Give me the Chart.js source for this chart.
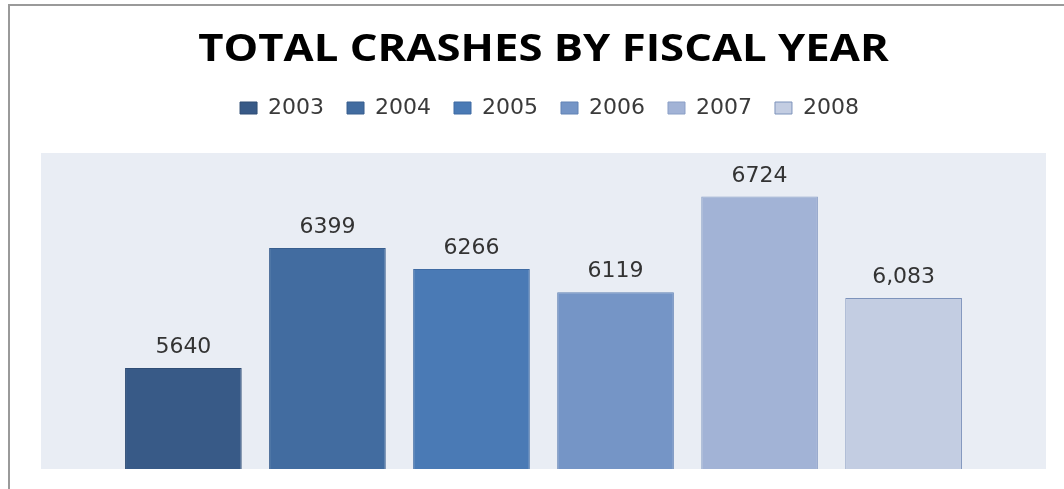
<!DOCTYPE html>
<html>
<head>
<meta charset="utf-8">
<title>Total Crashes by Fiscal Year</title>
<script src="https://cdn.jsdelivr.net/npm/chart.js@4/dist/chart.umd.min.js"></script>
<style>
    body { margin: 0; background: #fff; }
    #wrap { position: relative; width: 1064px; height: 489px; }
    #frame {
        position: absolute; left: 8px; top: 4px; right: 0; bottom: 0;
        border-left: 2px solid #9a9a9a; border-top: 2px solid #9a9a9a;
        pointer-events: none;
    }
    canvas { position: absolute; left: 0; top: 0; }
</style>
</head>
<body>
<div id="wrap">
    <canvas id="crashChart" width="1064" height="489"></canvas>
    <div id="frame"></div>
</div>
<script>
// Fiscal years and crash totals
const years = ['2003', '2004', '2005', '2006', '2007', '2008'];
const crashes = [5640, 6399, 6266, 6119, 6724, 6083];
const valueLabels = ['5640', '6399', '6266', '6119', '6724', '6,083'];
const chartTitle = 'TOTAL CRASHES BY FISCAL YEAR';

const fillColors = ['#385a87', '#426ca0', '#4a7ab5', '#7595c6', '#a2b3d6', '#c3cde2'];
const edgeColors = ['#2f4d75', '#385e8e', '#3f6ba3', '#6283b5', '#8a9fc6', '#7d93bb'];

// Shade behind the bars
const plotBackground = {
    id: 'plotBackground',
    beforeDatasetsDraw(chart) {
        const { ctx, chartArea } = chart;
        ctx.save();
        ctx.fillStyle = '#e9edf4';
        ctx.fillRect(chartArea.left, chartArea.top, chartArea.right - chartArea.left, chartArea.bottom - chartArea.top);
        ctx.restore();
    }
};

// Wide bold heading, stretched a little to get the broad caps
const wideTitle = {
    id: 'wideTitle',
    afterDraw(chart) {
        const { ctx, chartArea } = chart;
        ctx.save();
        ctx.translate((chartArea.left + chartArea.right) / 2, 61);
        ctx.scale(1.18, 1);
        ctx.font = 'bold 37px "Open Sans"';
        ctx.fillStyle = '#000000';
        ctx.textAlign = 'center';
        ctx.textBaseline = 'alphabetic';
        ctx.fillText(chartTitle, 0, 0);
        ctx.restore();
    }
};

// Value text above each bar
const barValues = {
    id: 'barValues',
    afterDatasetsDraw(chart) {
        const ctx = chart.ctx;
        ctx.save();
        ctx.font = '22px "DejaVu Sans"';
        ctx.fillStyle = '#333333';
        ctx.textAlign = 'center';
        ctx.textBaseline = 'alphabetic';
        chart.data.datasets.forEach((ds, i) => {
            const bar = chart.getDatasetMeta(i).data[0];
            ctx.fillText(valueLabels[i], bar.x, bar.y - 15);
        });
        ctx.restore();
    }
};

// Extra room between legend and plot, and nudge the legend right
const legendTweak = {
    id: 'legendTweak',
    beforeInit(chart) {
        const legend = chart.legend;
        const fit = legend.fit;
        legend.fit = function() {
            fit.call(legend);
            this.height += 24;
        };
        const draw = legend.draw;
        legend.draw = function() {
            const ctx = chart.ctx;
            ctx.save();
            ctx.translate(6, 0);
            draw.call(legend);
            ctx.restore();
        };
    }
};

const ctx = document.getElementById('crashChart').getContext('2d');
new Chart(ctx, {
    type: 'bar',
    data: {
        labels: [''],
        datasets: years.map((year, i) => ({
            label: year,
            data: [crashes[i]],
            backgroundColor: fillColors[i],
            borderColor: edgeColors[i],
            borderWidth: 1
        }))
    },
    options: {
        responsive: false,
        animation: false,
        categoryPercentage: 0.86,
        barPercentage: 0.81,
        layout: { padding: { top: 74, left: 41, right: 18, bottom: 20 } },
        plugins: {
            title: { display: false },
            legend: {
                position: 'top',
                labels: {
                    color: '#3a3a3a',
                    font: { family: 'DejaVu Sans', size: 22 },
                    boxWidth: 17,
                    boxHeight: 12,
                    padding: 23
                }
            },
            tooltip: { enabled: false }
        },
        scales: {
            x: { display: false },
            y: { display: false, min: 5000, max: 7000 }
        }
    },
    plugins: [plotBackground, barValues, legendTweak, wideTitle]
});
</script>
</body>
</html>
